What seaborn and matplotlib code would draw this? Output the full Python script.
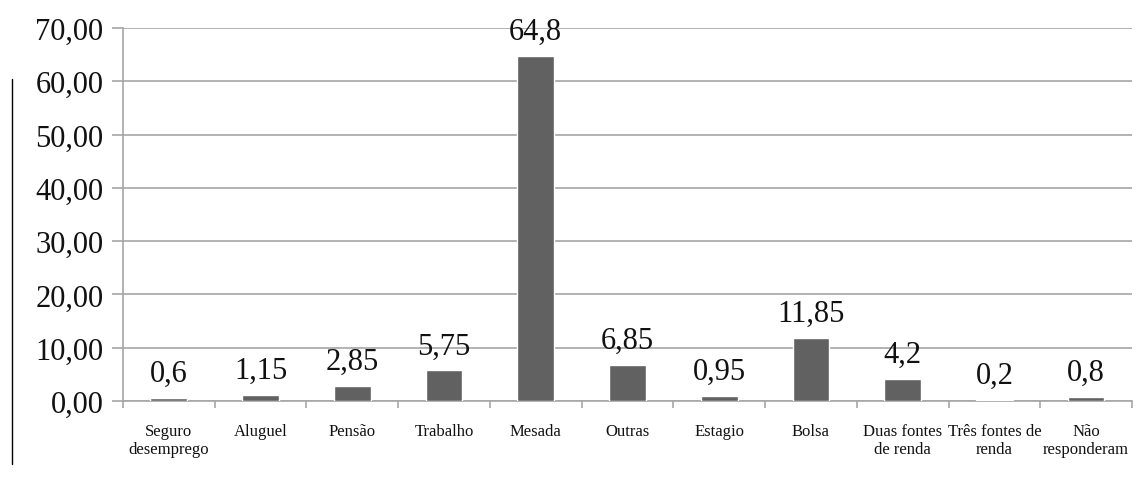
import matplotlib
matplotlib.use("Agg")
import matplotlib.pyplot as plt
import seaborn as sns
import pandas as pd
from matplotlib.lines import Line2D
from matplotlib.ticker import FixedLocator, FuncFormatter

categories = ["Seguro\ndesemprego", "Aluguel", "Pensão", "Trabalho", "Mesada",
              "Outras", "Estagio", "Bolsa", "Duas fontes\nde renda",
              "Três fontes de\nrenda", "Não\nresponderam"]
values = [0.6, 1.15, 2.85, 5.75, 64.8, 6.85, 0.95, 11.85, 4.2, 0.2, 0.8]
value_labels = ["0,6", "1,15", "2,85", "5,75", "64,8", "6,85", "0,95", "11,85", "4,2", "0,2", "0,8"]
y_ticks = [0, 10, 20, 30, 40, 50, 60, 70]

sns.set_theme(style="white")
plt.rcParams['font.family'] = ['Liberation Serif', 'DejaVu Serif']

df = pd.DataFrame({"cat": categories, "val": values})

fig = plt.figure(figsize=(11.47, 4.81), dpi=100)
ax = fig.add_axes([0.1072, 0.1642, 0.9869 - 0.1072, 0.9397 - 0.1642])

sns.barplot(data=df, x="cat", y="val", color="#616161", saturation=1,
            width=0.4, ax=ax, zorder=3)

ax.set_ylim(0, 70)
ax.set_xlim(-0.5, len(categories) - 0.5)
ax.yaxis.set_major_locator(FixedLocator(y_ticks))
ax.yaxis.set_major_formatter(FuncFormatter(lambda v, p: f"{v:.2f}".replace(".", ",")))
ax.grid(axis="y", color="#a6a6a6", linewidth=1.2, zorder=0)
ax.set_axisbelow(True)
ax.set_xlabel("")
ax.set_ylabel("")

for s in ["top", "right"]:
    ax.spines[s].set_visible(False)
for s in ["left", "bottom"]:
    ax.spines[s].set_color("#a6a6a6")
    ax.spines[s].set_linewidth(1.2)

ax.tick_params(axis="y", which="major", length=8, width=1.2, color="#a6a6a6",
               labelsize=22, pad=6, left=True, direction="out", labelcolor="#111111")
ax.tick_params(axis="x", which="major", length=0, labelsize=12, pad=16,
               labelcolor="#111111")
ax.set_xticks(range(len(categories)))
ax.set_xticklabels(categories, linespacing=1.15)
ax.xaxis.set_minor_locator(FixedLocator([i - 0.5 for i in range(len(categories) + 1)]))
ax.tick_params(axis="x", which="minor", length=5, width=1.2, color="#a6a6a6",
               bottom=True, direction="out")

for i, (v, lab) in enumerate(zip(values, value_labels)):
    ax.annotate(lab, (i, v), xytext=(0, 12), textcoords="offset points",
                ha="center", va="baseline", fontsize=22, color="#111111")

fig.add_artist(Line2D([12 / 1147, 12 / 1147], [1 - 80 / 481, 1 - 465 / 481],
                      transform=fig.transFigure, color="black", linewidth=1))

fig.savefig("out.png", dpi=100)
